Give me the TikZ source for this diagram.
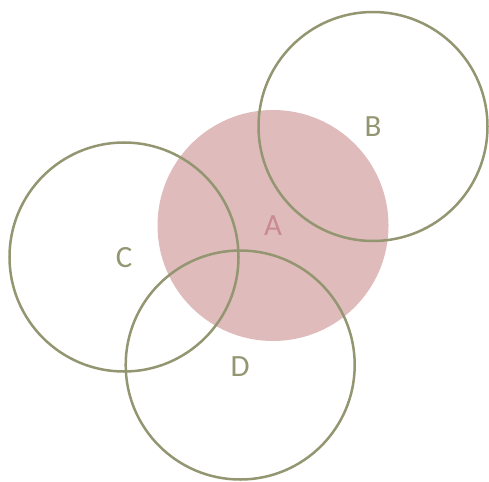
\documentclass[tikz,border=0pt]{standalone}
\usepackage{fontspec}
\setmainfont{Carlito}
\definecolor{olive}{HTML}{939670}
\definecolor{pinkfill}{HTML}{DFBBBC}
\definecolor{pinktext}{HTML}{C98A93}
\begin{document}
\begin{tikzpicture}[x=1bp,y=-1bp,
  ring/.style={circle,draw=olive,line width=2.5bp,minimum size=229bp,inner sep=0pt},
  lab/.style={font=\fontsize{31}{32}\selectfont,text=olive},
]
\useasboundingbox (0,0) rectangle (489,482);
\node[circle,fill=pinkfill,minimum size=231bp,inner sep=0pt] (a) at (273,225.5) {};
\node[ring] (b) at (373,126.5) {};
\node[ring] (c) at (124,257) {};
\node[ring] (d) at (240.2,365) {};
\node[lab,text=pinktext] (la) at (273,226) {A};
\node[lab] (lb) at (373,127) {B};
\node[lab] (lc) at (124,258) {C};
\node[lab] (ld) at (240,367) {D};
\end{tikzpicture}
\end{document}
